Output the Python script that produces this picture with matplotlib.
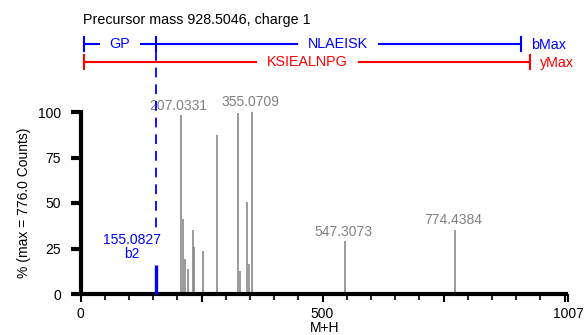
import matplotlib
matplotlib.use('Agg')
import matplotlib.pyplot as plt
import matplotlib.transforms as mtransforms
from matplotlib.ticker import FixedLocator, MultipleLocator

plt.rcParams['font.family'] = ['Liberation Sans', 'DejaVu Sans']
plt.rcParams['lines.scale_dashes'] = False

# ---------------- data ----------------
precursor_mz = 928.5046
charge = 1
max_counts = 776.0

peak_mz = [207.0331, 211.0, 215.0, 222.6, 231.6, 235.0, 253.0, 282.6,
           324.6, 328.8, 343.3, 348.8, 355.0709, 547.3073, 774.4384]
peak_int = [98.3, 41.0, 19.0, 13.6, 35.4, 25.6, 23.4, 87.3,
            99.5, 12.7, 50.8, 16.7, 100.0, 28.9, 35.2]
labeled_mz = [207.0331, 355.0709, 547.3073, 774.4384]

b_ion_mz = [155.0827]
b_ion_int = [16.0]
b_ion_names = ['b2']

b_ruler_marks = [8.0, 155.0827, 910.494]   # start, b2, bMax
b_ruler_labels = ['GP', 'NLAEISK']
y_ruler_marks = [8.0, 928.5046]            # start, yMax
y_ruler_labels = ['KSIEALNPG']

x_max = 1007
y_ticks = [0, 25, 50, 75, 100]

# ---------------- figure ----------------
W, H = 585, 335
fig = plt.figure(figsize=(W / 100, H / 100), dpi=100)
ax = fig.add_axes([80.5 / W, (H - 294) / H, (568 - 80.5) / W, (294 - 112) / H])

GRAY = '#808080'
BLUE = '#0000ff'
RED = '#ff0000'

ax.set_xlim(0, x_max)
ax.set_ylim(0, 100)

ax.vlines(peak_mz, 0, peak_int, color=GRAY, lw=1.1, clip_on=False, zorder=2)
for mz, it in zip(peak_mz, peak_int):
    if mz in labeled_mz:
        ax.annotate(f'{mz:.4f}', (mz, it), xytext=(-1.5, 4), textcoords='offset points',
                    ha='center', va='baseline', color=GRAY, fontsize=10,
                    annotation_clip=False)

ax.vlines(b_ion_mz, 0, b_ion_int, color=BLUE, lw=2.4, clip_on=False, zorder=3)
for mz, it, nm in zip(b_ion_mz, b_ion_int, b_ion_names):
    ax.annotate(f'{mz:.4f}\n{nm}', (mz, it), xytext=(-17, 3), textcoords='offset points',
                ha='center', va='bottom', color=BLUE, fontsize=10,
                multialignment='center', linespacing=1.0, annotation_clip=False)

# spines and ticks
for s in ['top', 'right']:
    ax.spines[s].set_visible(False)
for s in ['left', 'bottom']:
    ax.spines[s].set_linewidth(3.0)
    ax.spines[s].set_color('black')
    ax.spines[s].set_capstyle('butt')
ax.spines['left'].set_bounds(0, 101)

ax.set_yticks(y_ticks)
ax.tick_params(axis='y', length=7.5, width=3.0, labelsize=10, pad=6.5)

ax.xaxis.set_major_locator(FixedLocator([0, 250, 500, 750, 1000, x_max]))
ax.set_xticklabels(['0', '', '500', '', '', '1007'])
ax.xaxis.set_minor_locator(MultipleLocator(50))
ax.tick_params(axis='x', which='major', length=6.0, width=1.5, labelsize=10, pad=3.0)
ax.tick_params(axis='x', which='minor', length=4.3, width=1.2)
ax.set_xlabel('M+H', fontsize=10, labelpad=0.5)
ax.set_ylabel(f'% (max = {max_counts:.1f} Counts)', fontsize=10, labelpad=5)

# header text
fig.text(83 / W, 1 - 20 / H, f'Precursor mass {precursor_mz:.4f}, charge {charge}',
         ha='left', va='center', fontsize=10.3, color='black')

# rulers
fig.canvas.draw()
renderer = fig.canvas.get_renderer()
px_per_unit = ax.transData.transform((1, 0))[0] - ax.transData.transform((0, 0))[0]
trans = mtransforms.blended_transform_factory(ax.transData, fig.transFigure)
tick_half = 7.0 / H
gap_px = 11


def draw_ruler(marks, labels, ypx, color, end_label):
    y = 1 - ypx / H
    for i in range(len(marks) - 1):
        a, b = marks[i], marks[i + 1]
        mid = (a + b) / 2
        t = fig.text(mid, y, labels[i], transform=trans, ha='center', va='center',
                     color=color, fontsize=10.3)
        bb = t.get_window_extent(renderer)
        half = (bb.width / 2 + gap_px) / px_per_unit
        fig.add_artist(plt.Line2D([a, mid - half], [y, y], transform=trans,
                                  color=color, lw=1.5))
        fig.add_artist(plt.Line2D([mid + half, b], [y, y], transform=trans,
                                  color=color, lw=1.5))
    for m in marks:
        fig.add_artist(plt.Line2D([m, m], [y - tick_half, y + tick_half], transform=trans,
                                  color=color, lw=1.5))
    fig.text(marks[-1] + 9.5 / px_per_unit, y - 1 / H, end_label, transform=trans,
             ha='left', va='center', color=color, fontsize=10.3)


draw_ruler(b_ruler_marks, b_ruler_labels, 44, BLUE, 'bMax')
draw_ruler(y_ruler_marks, y_ruler_labels, 62, RED, 'yMax')

# dashed guide from b2 mark down to the b2 label
for mz in b_ion_mz:
    fig.add_artist(plt.Line2D([mz, mz], [1 - 51 / H, 1 - 229 / H], transform=trans,
                              color=BLUE, lw=1.3, dashes=(7, 5)))

fig.savefig('out.png', dpi=100)
